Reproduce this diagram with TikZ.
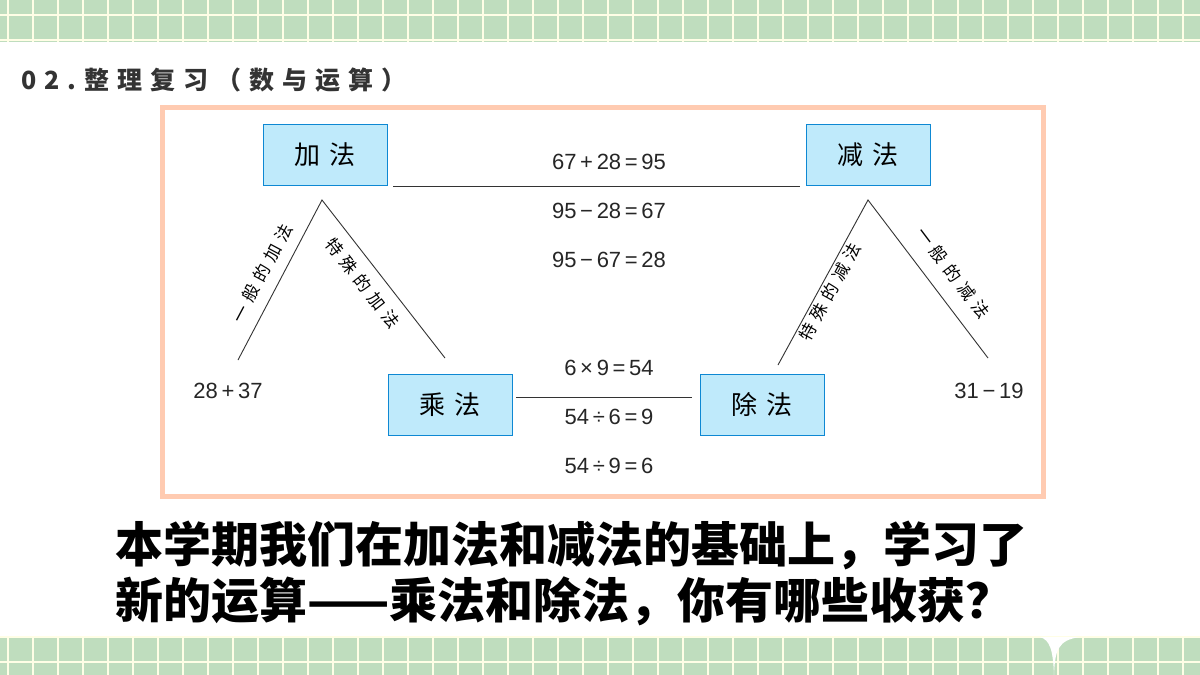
\documentclass[tikz,border=0pt]{standalone}
\usepackage{fontspec}
\setmainfont{Liberation Sans}
\newfontfamily\cjk{Noto Sans CJK SC}
\newfontfamily\cjksp[LetterSpace=35]{Noto Sans CJK SC}
\newfontfamily\cjkt[LetterSpace=32]{Noto Sans CJK SC Black}
\newfontfamily\cjkb{Noto Sans CJK SC Black}
\begin{document}
\begin{tikzpicture}[x=1pt,y=-1pt,
  box/.style={draw=cyan!70!blue,line width=1pt,fill=cyan!25,minimum width=124pt,minimum height=61pt,font=\cjksp\fontsize{26}{26}\selectfont},
  lab/.style={font=\cjksp\fontsize{17}{17}\selectfont},
  eq/.style={font=\fontsize{22}{22}\selectfont,text=black!85},
  ln/.style={draw=black!80,line width=0.9pt}]
\definecolor{gbg}{HTML}{BFDDBE}
\useasboundingbox (0,0) rectangle (1200,675);
\fill[white] (0,0) rectangle (1200,675);
\fill[gbg] (0,0) rectangle (1200,42);
\fill[gbg] (0,637) rectangle (1200,675);
\foreach \x in {8,33,...,1200}{\draw[white!90!yellow,line width=1.3pt] (\x,0)--(\x,42) (\x,637)--(\x,675);}
\draw[white!90!yellow,line width=1.3pt] (0,15)--(1200,15) (0,40)--(1200,40) (0,637)--(1200,637) (0,662)--(1200,662);
\fill[white] (1040,637) .. controls (1050,640) and (1053,650) .. (1054,675) .. controls (1055,650) and (1058,640) .. (1080,637) -- cycle;
\node[anchor=west,text=black!80,font=\cjkt\fontsize{25}{25}\selectfont] (title) at (18,80) {02.整理复习（数与运算）};
\draw[draw=orange!35!pink!60,line width=5pt] (162,107) rectangle (1043,496);
\node[box] (add) at (325,155) {加法};
\node[box] (sub) at (868,155) {减法};
\node[box] (mul) at (450,405) {乘法};
\node[box] (div) at (762,405) {除法};
\coordinate (a1) at (393,186); \coordinate (a2) at (800,186);
\draw[ln] (a1)--(a2);
\coordinate (m1) at (516,397); \coordinate (m2) at (692,397);
\draw[ln] (m1)--(m2);
\coordinate (lA) at (322,200); \coordinate (lL) at (238,360); \coordinate (lR) at (445,358);
\draw[ln] (lL)--(lA)--(lR);
\coordinate (rA) at (868,200); \coordinate (rL) at (778,365); \coordinate (rR) at (988,358);
\draw[ln] (rL)--(rA)--(rR);
\node[lab,rotate=62] (t1) at (262,273) {一般的加法};
\node[lab,rotate=-52] (t2) at (363,283) {特殊的加法};
\node[lab,rotate=61] (t3) at (830,292) {特殊的减法};
\node[lab,rotate=-53] (t4) at (953,273) {一般的减法};
\node[eq] (e1) at (609,162) {67\,+\,28\,=\,95};
\node[eq] (e2) at (609,211) {95\,−\,28\,=\,67};
\node[eq] (e3) at (609,260) {95\,−\,67\,=\,28};
\node[eq] (e4) at (609,368) {6\,×\,9\,=\,54};
\node[eq] (e5) at (609,417) {54\,÷\,6\,=\,9};
\node[eq] (e6) at (609,466) {54\,÷\,9\,=\,6};
\node[eq] (n1) at (228,391) {28\,+\,37};
\node[eq] (n2) at (989,391) {31\,−\,19};
\node[anchor=west,font=\cjkb\fontsize{48}{56}\selectfont,align=left] (q) at (112,573) {本学期我们在加法和减法的基础上，学习了\\新的运算——乘法和除法，你有哪些收获？};
\end{tikzpicture}
\end{document}
